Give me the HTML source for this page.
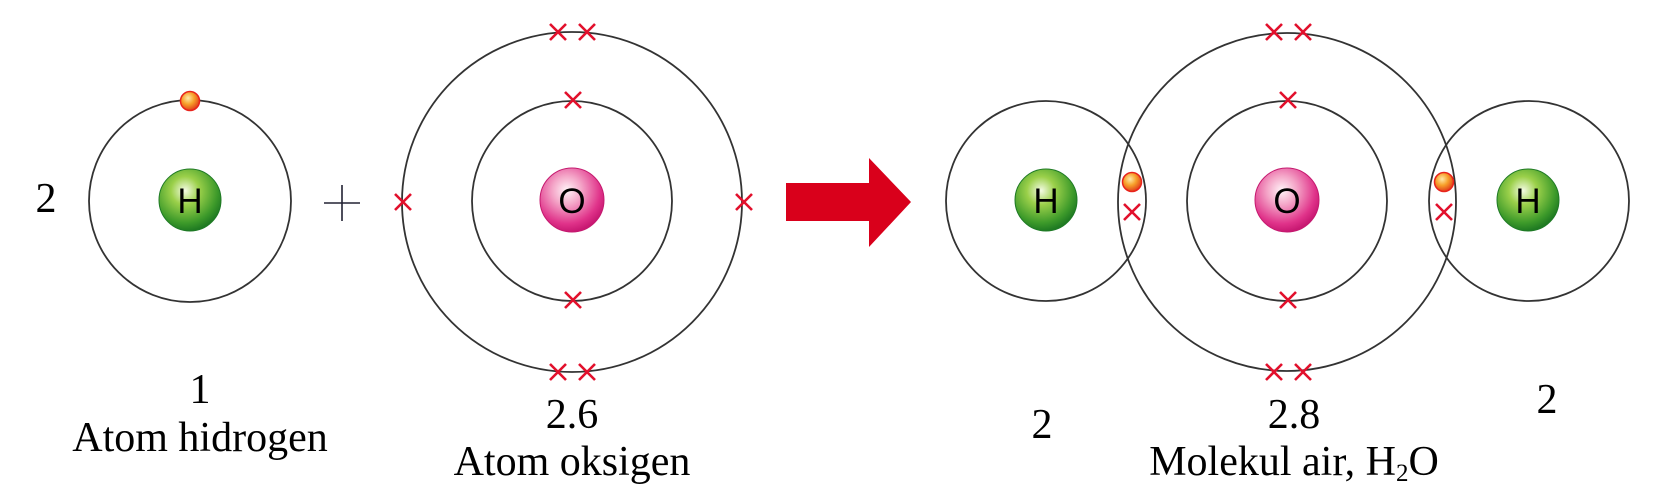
<!DOCTYPE html>
<html><head><meta charset="utf-8"><style>
html,body{margin:0;padding:0;background:#fff;width:1654px;height:504px;overflow:hidden}
svg{display:block}
</style></head><body>
<svg width="1654" height="504" viewBox="0 0 1654 504" xmlns="http://www.w3.org/2000/svg">
<defs>
<radialGradient id="gH" cx="0.42" cy="0.35" r="0.65">
<stop offset="0" stop-color="#f4fbe4"/><stop offset="0.35" stop-color="#9bd04a"/><stop offset="0.8" stop-color="#3d9a2a"/><stop offset="1" stop-color="#1f7a22"/>
</radialGradient>
<radialGradient id="gO" cx="0.42" cy="0.35" r="0.65">
<stop offset="0" stop-color="#fff4f8"/><stop offset="0.35" stop-color="#f4a6c8"/><stop offset="0.8" stop-color="#e0338a"/><stop offset="1" stop-color="#c81872"/>
</radialGradient>
<radialGradient id="gE" cx="0.4" cy="0.35" r="0.65">
<stop offset="0" stop-color="#ffe9a8"/><stop offset="0.5" stop-color="#f7a02a"/><stop offset="1" stop-color="#e2401a"/>
</radialGradient>
<g id="x"><path d="M-8,-8L8,8M8,-8L-8,8" stroke="#e2102c" stroke-width="2.6" fill="none"/></g>
<g id="e"><circle r="9.5" fill="url(#gE)" stroke="#e8231c" stroke-width="1.5"/></g>
</defs>
<g fill="none" stroke="#333" stroke-width="1.8">
<circle cx="190" cy="201" r="101"/>
<circle cx="572" cy="201" r="100"/>
<circle cx="572" cy="202" r="170"/>
<circle cx="1046" cy="201" r="100"/>
<circle cx="1287" cy="201" r="100"/>
<circle cx="1287" cy="202" r="169"/>
<circle cx="1529" cy="201" r="100"/>
</g>
<circle cx="190" cy="200" r="31" fill="url(#gH)" stroke="#1e7a25" stroke-width="1"/>
<circle cx="572" cy="200" r="32" fill="url(#gO)" stroke="#c51a6f" stroke-width="1"/>
<circle cx="1046" cy="200" r="31" fill="url(#gH)" stroke="#1e7a25" stroke-width="1"/>
<circle cx="1287" cy="200" r="32" fill="url(#gO)" stroke="#c51a6f" stroke-width="1"/>
<circle cx="1528" cy="200" r="31" fill="url(#gH)" stroke="#1e7a25" stroke-width="1"/>
<g font-family="Liberation Sans, sans-serif" font-size="35" text-anchor="middle" fill="#000">
<text x="190" y="213">H</text>
<text x="572" y="213">O</text>
<text x="1046" y="213">H</text>
<text x="1287" y="213">O</text>
<text x="1528" y="213">H</text>
</g>
<use href="#e" x="190" y="101"/>
<use href="#e" x="1132" y="182"/>
<use href="#e" x="1444" y="182"/>
<use href="#x" x="558" y="32"/><use href="#x" x="587" y="32"/>
<use href="#x" x="558" y="372"/><use href="#x" x="587" y="372"/>
<use href="#x" x="573" y="100"/><use href="#x" x="573" y="300"/>
<use href="#x" x="403" y="202"/><use href="#x" x="744" y="202"/>
<use href="#x" x="1274" y="32"/><use href="#x" x="1303" y="32"/>
<use href="#x" x="1274" y="372"/><use href="#x" x="1303" y="372"/>
<use href="#x" x="1288" y="100"/><use href="#x" x="1288" y="300"/>
<use href="#x" x="1132" y="212"/><use href="#x" x="1444" y="212"/>
<path d="M324,203H360M342,185V221" stroke="#223" stroke-width="1.6"/>
<polygon points="786,183 869,183 869,158 911,202 869,247 869,221 786,221" fill="#d9001b"/>
<g font-family="Liberation Serif, serif" font-size="42" text-anchor="middle" fill="#000">
<text x="46" y="212">2</text>
<text x="200" y="403">1</text>
<text x="200" y="451">Atom hidrogen</text>
<text x="572" y="428">2.6</text>
<text x="572" y="475">Atom oksigen</text>
<text x="1042" y="438">2</text>
<text x="1294" y="428">2.8</text>
<text x="1547" y="413">2</text>
<text x="1294" y="475">Molekul air, H<tspan font-size="25" dy="6">2</tspan><tspan dy="-6">O</tspan></text>
</g>
</svg>
</body></html>
